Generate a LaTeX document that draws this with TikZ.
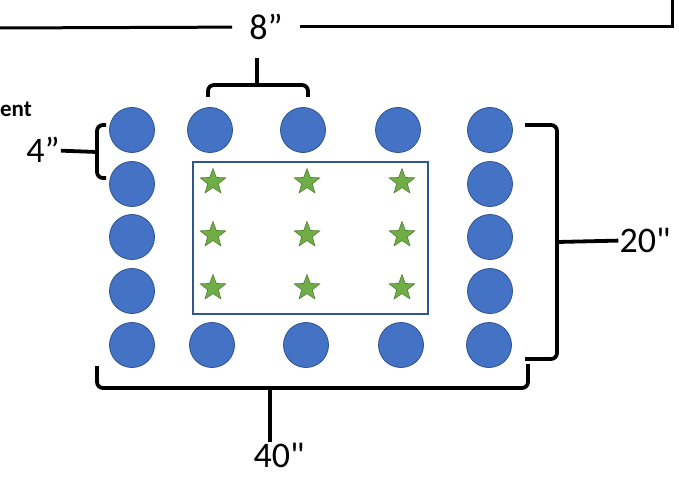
\documentclass[tikz,border=0pt]{standalone}
\usepackage{fontspec}
\setmainfont{Carlito}[Ligatures=TeXOff]
\usetikzlibrary{shapes.geometric, calc}

\definecolor{postblue}{HTML}{4472C4}
\definecolor{postedge}{HTML}{2F528F}
\definecolor{plantgreen}{HTML}{70AD47}
\definecolor{plantedge}{HTML}{507E32}
\definecolor{boxblue}{HTML}{2F5597}

\tikzset{
    post/.style={circle, fill=postblue, draw=postedge, line width=0.8pt, minimum size=45pt, inner sep=0pt},
    plant/.style={star, star points=5, star point ratio=2.4, fill=plantgreen, draw=plantedge, line width=0.6pt, minimum size=27pt, inner sep=0pt},
    brace/.style={line width=3.8pt, rounded corners=6pt},
    dim/.style={font=\fontsize{36}{40}\selectfont, inner sep=1pt},
}

\begin{document}
\begin{tikzpicture}[x=1pt, y=-1pt]
        \useasboundingbox (0,0) rectangle (679,476);

        % planting bed
        \node[draw=boxblue, line width=1.3pt, minimum width=235pt, minimum height=152pt] (bed) at (310.5,238) {};

        % posts, top and bottom rows
        \node[post] (a1) at (132,130) {};
        \node[post] (a2) at (210,130) {};
        \node[post] (a3) at (303,130) {};
        \node[post] (a4) at (398,130) {};
        \node[post] (a5) at (490,130) {};
        \node[post] (e1) at (132,345) {};
        \node[post] (e2) at (212,345) {};
        \node[post] (e3) at (306,345) {};
        \node[post] (e4) at (401,345) {};
        \node[post] (e5) at (489,345) {};
        % posts, side columns
        \node[post] (b1) at (132,184) {};
        \node[post] (c1) at (132,237) {};
        \node[post] (d1) at (132,291) {};
        \node[post] (b5) at (490,184) {};
        \node[post] (c5) at (490,237) {};
        \node[post] (d5) at (490,291) {};

        % plants
        \node[plant] (s11) at (213,182) {};
        \node[plant] (s12) at (307,182) {};
        \node[plant] (s13) at (402,182) {};
        \node[plant] (s21) at (213,235) {};
        \node[plant] (s22) at (307,235) {};
        \node[plant] (s23) at (402,235) {};
        \node[plant] (s31) at (213,288) {};
        \node[plant] (s32) at (307,288) {};
        \node[plant] (s33) at (402,288) {};

        % labels
        \node[dim, inner xsep=17pt] (eight) at (266,27) {8”};
        \node[dim] (four) at (43,150) {4”};
        \node[dim] (twenty) at (645,240) {20"};
        \node[dim] (forty) at (279,455) {40"};
        \node[anchor=east, inner sep=0pt, font=\fontsize{23}{25}\selectfont\bfseries] (cut) at (32,109) {ent};

        \coordinate (tl) at (-5,28);
        \coordinate (tr) at (672,-5);
        \coordinate (topmid) at (257,85);
        \coordinate (leftmid) at (97,152);
        \coordinate (rightmid) at (557,242);
        \coordinate (botmid) at (270,388);

        % dimension lines
        \draw[line width=3pt] (tl) -- (eight);
        \draw[line width=3pt] (eight) -| (tr);
        \draw[brace] (208,97) -- (208,85) -- (308,85) -- (308,97);
        \draw[brace] (topmid) -- ++(0,-27);
        \draw[brace] (106,125) -- (97,125) -- (97,178) -- (106,178);
        \draw[brace] (leftmid) -- (four);
        \draw[brace] (525,125) -- (557,125) -- (557,359) -- (525,359);
        \draw[brace] (rightmid) -- (twenty);
        \draw[brace] (97,366) -- (97,388) -- (528,388) -- (528,364);
        \draw[brace] (botmid) -- (botmid |- forty.north);
\end{tikzpicture}
\end{document}
